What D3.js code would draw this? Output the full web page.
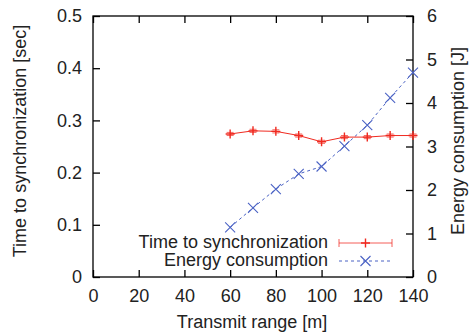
<!DOCTYPE html>
<html><head><meta charset="utf-8">
<script src="https://cdn.jsdelivr.net/npm/d3@7"></script>
<style>body{margin:0;background:#fff}svg{display:block}text{font-family:"Liberation Sans",Arial,sans-serif;fill:#222}</style>
</head><body><svg id="c" width="470" height="335"></svg>
<script>
const range = [60,70,80,90,100,110,120,130,140];
const syncTime = [0.274,0.280,0.279,0.271,0.259,0.268,0.268,0.271,0.271];
const syncErr = [0.003,0.003,0.003,0.003,0.003,0.003,0.003,0.003,0.003];
const energy = [1.14,1.59,2.02,2.37,2.54,3.01,3.49,4.12,4.70];
const xTicks = [0,20,40,60,80,100,120,140];
const yTicks = [0,0.1,0.2,0.3,0.4,0.5];
const y2Ticks = [0,1,2,3,4,5,6];
const RED = "#f02a20", BLUE = "#4a62c4";

const svg = d3.select("#c");
const L=93,R=413,T=16,B=277;
const x = d3.scaleLinear().domain([0,140]).range([L,R]);
const y = d3.scaleLinear().domain([0,0.5]).range([B,T]);
const y2 = d3.scaleLinear().domain([0,6]).range([B,T]);
const fs = 18;

// axes
const ax = svg.append("g");
ax.append("g").attr("transform",`translate(0,${B})`)
  .call(d3.axisBottom(x).tickValues(xTicks).tickSize(-7).tickPadding(12).tickFormat(d3.format("d")));
ax.append("g").attr("transform",`translate(0,${T})`)
  .call(d3.axisTop(x).tickValues(xTicks).tickSize(-7).tickFormat(""));
ax.append("g").attr("transform",`translate(${L},0)`)
  .call(d3.axisLeft(y).tickValues(yTicks).tickSize(-7).tickPadding(11).tickFormat(d=>d===0?"0":d3.format(".1f")(d)));
ax.append("g").attr("transform",`translate(${R},0)`)
  .call(d3.axisRight(y2).tickValues(y2Ticks).tickSize(-7).tickPadding(14).tickFormat(d3.format("d")));
ax.selectAll(".domain").remove();
ax.selectAll(".tick line").attr("stroke","#000").attr("stroke-width",1.3);
ax.selectAll("text").attr("font-size",fs).attr("font-family","Liberation Sans, Arial, sans-serif").attr("fill","#222");
svg.append("rect").attr("x",L).attr("y",T).attr("width",R-L).attr("height",B-T)
  .attr("fill","none").attr("stroke","#000").attr("stroke-width",1.3);

// titles
svg.append("text").attr("x",252).attr("y",328).attr("text-anchor","middle").attr("font-size",fs).text("Transmit range [m]");
svg.append("text").attr("transform","translate(26,141) rotate(-90)").attr("text-anchor","middle").attr("font-size",fs).text("Time to synchronization [sec]");
svg.append("text").attr("transform","translate(464,141) rotate(-90)").attr("text-anchor","middle").attr("font-size",fs).text("Energy consumption [J]");

// energy series
const eData = range.map((r,i)=>({r,v:energy[i]}));
svg.append("path").datum(eData).attr("fill","none").attr("stroke",BLUE).attr("stroke-width",1)
  .attr("stroke-dasharray","3,3")
  .attr("d",d3.line().x(d=>x(d.r)).y(d=>y2(d.v)));
function cross(g,cx,cy,s,col){
  g.append("path").attr("d",`M${cx-s},${cy-s}L${cx+s},${cy+s}M${cx-s},${cy+s}L${cx+s},${cy-s}`)
   .attr("stroke",col).attr("stroke-width",1.1).attr("fill","none");
}
eData.forEach(d=>cross(svg,x(d.r),y2(d.v),5,BLUE));

// sync series
const sData = range.map((r,i)=>({r,v:syncTime[i],e:syncErr[i]}));
svg.append("path").datum(sData).attr("fill","none").attr("stroke",RED).attr("stroke-width",1)
  .attr("d",d3.line().x(d=>x(d.r)).y(d=>y(d.v)));
function plus(g,cx,cy,s,col){
  g.append("path").attr("d",`M${cx-s},${cy}L${cx+s},${cy}M${cx},${cy-s}L${cx},${cy+s}`)
   .attr("stroke",col).attr("stroke-width",1.4).attr("fill","none");
}
sData.forEach(d=>{
  const cx=x(d.r);
  svg.append("path").attr("d",`M${cx},${y(d.v+d.e)}L${cx},${y(d.v-d.e)}M${cx-3.5},${y(d.v+d.e)}L${cx+3.5},${y(d.v+d.e)}M${cx-3.5},${y(d.v-d.e)}L${cx+3.5},${y(d.v-d.e)}`)
    .attr("stroke",RED).attr("stroke-width",1).attr("fill","none").attr("opacity",0.7);
  plus(svg,cx,y(d.v),4.5,RED);
});

// legend
const lg = svg.append("g");
lg.append("text").attr("x",328).attr("y",248).attr("text-anchor","end").attr("font-size",fs).text("Time to synchronization");
lg.append("text").attr("x",328).attr("y",266).attr("text-anchor","end").attr("font-size",fs).text("Energy consumption");
lg.append("path").attr("d","M339,243L392,243M339,239L339,247M392,239L392,247")
  .attr("stroke",RED).attr("stroke-width",1).attr("fill","none").attr("opacity",0.75);
plus(lg,365.5,243,4.5,RED);
lg.append("path").attr("d","M339,261L392,261").attr("stroke",BLUE).attr("stroke-dasharray","3,3").attr("stroke-width",1);
cross(lg,365.5,261,5,BLUE);
</script></body></html>
